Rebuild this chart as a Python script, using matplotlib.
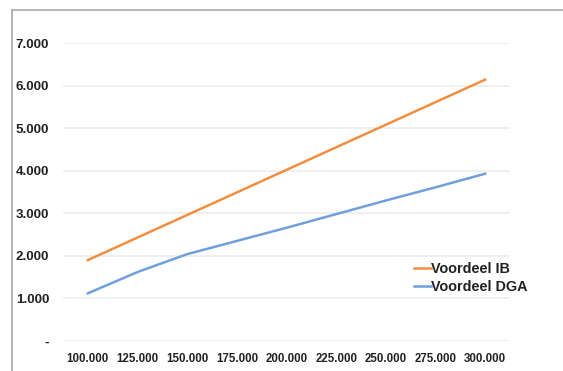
import numpy as np
import matplotlib
matplotlib.use("Agg")
import matplotlib.pyplot as plt
from matplotlib.lines import Line2D

plt.rcParams['font.family'] = ['Liberation Sans', 'DejaVu Sans']

# inkomen (categorieen op de x-as)
inkomen = ['100.000', '125.000', '150.000', '175.000', '200.000',
           '225.000', '250.000', '275.000', '300.000']
voordeel_ib = [1900, 2430, 2960, 3490, 4020, 4550, 5080, 5610, 6140]
voordeel_dga = [1120, 1620, 2040, 2350, 2660, 2980, 3300, 3610, 3930]
y_ticks = [0, 1000, 2000, 3000, 4000, 5000, 6000, 7000]
y_labels = ['-', '1.000', '2.000', '3.000', '4.000', '5.000', '6.000', '7.000']

fig = plt.figure(figsize=(5.63, 3.71), dpi=100)
ax = fig.add_axes([63 / 563, 30 / 371, 447 / 563, 298 / 371])

x = np.arange(len(inkomen))
ax.plot(x, voordeel_ib, color='#f28e3f', lw=1.8, label='Voordeel IB')
ax.plot(x, voordeel_dga, color='#6fa0dc', lw=1.8, label='Voordeel DGA')

ax.set_xlim(-0.5, len(inkomen) - 0.5)
ax.set_ylim(0, 7000)
ax.set_xticks(x)
ax.set_xticklabels(inkomen, fontsize=8.3, fontweight='bold', color='#222222')
ax.set_yticks(y_ticks)
ax.set_yticklabels(y_labels, fontsize=9.6, fontweight='bold', color='#222222')
ax.tick_params(length=0)
ax.tick_params(axis='y', pad=10)
ax.tick_params(axis='x', pad=9)
ax.grid(axis='y', color='#efefef', lw=1.4)
ax.set_axisbelow(True)
for s in ax.spines.values():
    s.set_visible(False)
ax.patch.set_alpha(0)

leg = ax.legend(loc='upper left', bbox_to_anchor=(414 / 563, 1 - 262 / 371),
                bbox_transform=fig.transFigure, frameon=False,
                prop={'size': 10.4, 'weight': 'bold'}, handlelength=1.15,
                handletextpad=0.05, labelspacing=0.3, borderpad=0,
                borderaxespad=0)
for t in leg.get_texts():
    t.set_color('#222222')

# kader links en boven
fig.add_artist(Line2D([12 / 563, 12 / 563], [0, 1 - 10 / 371],
                      transform=fig.transFigure, color='#a8a8a8', lw=1.2))
fig.add_artist(Line2D([12 / 563, 1], [1 - 10 / 371, 1 - 10 / 371],
                      transform=fig.transFigure, color='#a8a8a8', lw=1.2))

fig.savefig('out.png', dpi=100)
